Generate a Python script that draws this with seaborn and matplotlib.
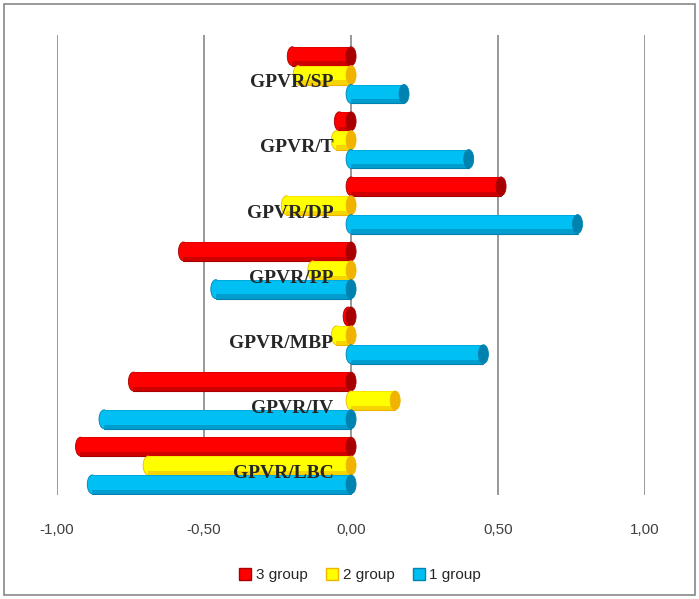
import pandas as pd
import matplotlib.pyplot as plt
import seaborn as sns
from matplotlib.patches import Rectangle, Patch, Ellipse

# Data
categories = ['GPVR/SP', 'GPVR/T', 'GPVR/DP', 'GPVR/PP', 'GPVR/MBP', 'GPVR/IV', 'GPVR/LBC']
group3 = [-0.20, -0.04, 0.51, -0.57, -0.01, -0.74, -0.92]
group2 = [-0.18, -0.05, -0.22, -0.13, -0.05, 0.15, -0.69]
group1 = [0.18, 0.40, 0.77, -0.46, 0.45, -0.84, -0.88]
series = ['3 group', '2 group', '1 group']
ticks = [-1.0, -0.5, 0.0, 0.5, 1.0]

df = pd.DataFrame({
    'category': categories * 3,
    'value': group3 + group2 + group1,
    'series': [s for s in series for _ in categories],
})

colors = {'3 group': '#FF0000', '2 group': '#FFFF00', '1 group': '#00BFF3'}
shades = {'3 group': '#A80000', '2 group': '#F0B400', '1 group': '#0082B0'}

sns.set_style("white")
plt.rcParams['font.family'] = ['Liberation Sans', 'DejaVu Sans']

fig = plt.figure(figsize=(6.99, 5.99), dpi=100)
ax = fig.add_axes([0.0815, 0.174, 0.8415, 0.768])

sns.barplot(data=df, x='value', y='category', hue='series', hue_order=series,
            palette=colors, orient='h', width=0.87, saturation=1, ax=ax,
            legend=False, zorder=3)

ax.set_xlim(-1, 1)
ax.set_ylim(6.45, -0.62)

# redraw each seaborn bar as a simple cylinder: rounded left end, shaded body, end cap
rx = 5 / (0.8415 * 699 / 2.0)   # 5 px half-width of the end ellipses, in data units
for container, s in zip(ax.containers, series):
    for k, bar in enumerate(container):
        x0, y0 = bar.get_x(), bar.get_y()
        w, h = bar.get_width(), bar.get_height()
        if w < 0:
            x0, w = x0 + w, -w
        bar.set_visible(False)
        z = 3 + k * 0.01
        xl, xr = x0, x0 + w
        ax.add_patch(Ellipse((xl, y0 + h / 2), 2 * rx, h, facecolor=colors[s],
                             edgecolor=shades[s], lw=0.6, zorder=z))
        ax.add_patch(Rectangle((xl, y0), w, h, facecolor=colors[s], edgecolor='none', zorder=z))
        ax.add_patch(Rectangle((xl, y0 + h * 0.78), w, h * 0.22, facecolor=shades[s],
                               edgecolor='none', alpha=0.55, zorder=z))
        ax.plot([xl, xr], [y0 + h, y0 + h], color=shades[s], lw=0.8, zorder=z)
        ax.plot([xl, xr], [y0, y0], color=shades[s], lw=0.5, alpha=0.5, zorder=z)
        ax.add_patch(Ellipse((xr, y0 + h / 2), 2 * rx, h, facecolor=shades[s],
                             edgecolor=shades[s], lw=0.6, zorder=z))

ax.set_xticks(ticks)
ax.set_xticklabels([f"{t:.2f}".replace('.', ',') for t in ticks], fontsize=11, color='#404040')
ax.set_yticks([])
ax.set_xlabel('')
ax.set_ylabel('')
ax.tick_params(axis='x', length=0, pad=20)
for sp in ax.spines.values():
    sp.set_visible(False)
for t in ticks:
    ax.axvline(t, color='#888888', lw=1.2, zorder=1)

# category labels inside the plot, right aligned just left of zero
for i, c in enumerate(categories):
    ax.text(-0.06, i + 0.12, c, ha='right', va='center', fontsize=14,
            fontweight='bold', family=['Liberation Serif', 'DejaVu Serif'], zorder=5)

legend_elements = [Patch(facecolor=colors[s], edgecolor=shades[s], label=s) for s in series]
fig.legend(handles=legend_elements, loc='center', bbox_to_anchor=(0.515, 0.04), ncol=3,
           frameon=False, fontsize=11, handlelength=0.8, handleheight=0.8,
           handletextpad=0.3, columnspacing=1.2)

# outer chart border
fig.patches.append(Rectangle((0.006, 0.006), 0.988, 0.988, transform=fig.transFigure,
                             fill=False, edgecolor='#888888', lw=1.2))

plt.savefig('out.png', dpi=100)
